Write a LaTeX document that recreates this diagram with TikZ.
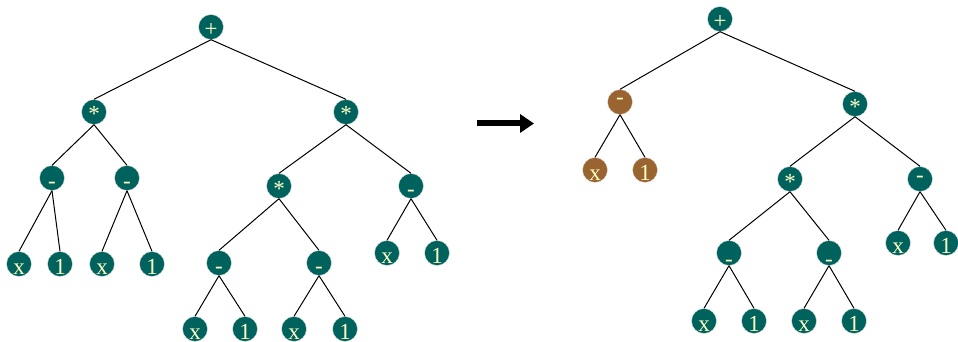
\documentclass[tikz,border=0pt]{standalone}
\usepackage{fontspec}
\setmainfont{Liberation Serif}
\usetikzlibrary{positioning, arrows.meta}
\definecolor{nodeteal}{RGB}{0,98,92}
\definecolor{nodebrown}{RGB}{153,100,48}
\definecolor{labelyellow}{RGB}{255,255,195}
\tikzset{
  x=1pt, y=-1pt, % one unit per pixel, origin at the top left
  on grid, % distances are measured between node centres
  term/.style={circle, fill=nodeteal, draw=white!80!gray, line width=0.4pt,
    minimum size=25pt, inner sep=0pt, text=labelyellow,
    font=\fontsize{23}{23}\selectfont, text height=20pt, text depth=0pt}, % every node of both trees
  moved/.style={term, fill=nodebrown}, % the subtree that was moved
  link/.style={line width=1pt, black}, % the tree edges
}

\begin{document}
\begin{tikzpicture}
    \useasboundingbox (0,0) rectangle (958,342);

    % left tree
    \node[term] (plusL) at (211,27) {+};
    \node[term, below left=85pt and 117pt of plusL] (starA) {*};
    \node[term, below right=85pt and 135pt of plusL] (starB) {*};
    \node[term, below left=66pt and 42pt of starA] (minA) {-};
    \node[term, below right=66pt and 33pt of starA] (minB) {-};
    \node[term, below left=86pt and 33pt of minA] (xA) {x};
    \node[term, below right=86pt and 8pt of minA] (oneA) {1};
    \node[term, below left=86pt and 25pt of minB] (xB) {x};
    \node[term, below right=86pt and 25pt of minB] (oneB) {1};
    \node[term, below left=74pt and 67pt of starB] (starC) {*};
    \node[term, below right=74pt and 65pt of starB] (minC) {-};
    \node[term, below left=67pt and 24pt of minC] (xC) {x};
    \node[term, below right=67pt and 26pt of minC] (oneC) {1};
    \node[term, below left=77pt and 60pt of starC] (minD) {-};
    \node[term, below right=77pt and 40pt of starC] (minE) {-};
    \node[term, below left=66pt and 24pt of minD] (xD) {x};
    \node[term, below right=66pt and 26pt of minD] (oneD) {1};
    \node[term, below left=66pt and 25pt of minE] (xE) {x};
    \node[term, below right=66pt and 26pt of minE] (oneE) {1};

    \draw[link] (plusL.south) edge (starA.north)
    (plusL.south) edge (starB.north)
    (starA.south) edge (minA.north)
    (starA.south) edge (minB.north)
    (minA.south) edge (xA.north)
    (minA.south) edge (oneA.north)
    (minB.south) edge (xB.north)
    (minB.south) edge (oneB.north)
    (starB.south) edge (starC.north)
    (starB.south) edge (minC.north)
    (minC.south) edge (xC.north)
    (minC.south) edge (oneC.north)
    (starC.south) edge (minD.north)
    (starC.south) edge (minE.north)
    (minD.south) edge (xD.north)
    (minD.south) edge (oneD.north)
    (minE.south) edge (xE.north)
    (minE.south) edge (oneE.north);

    % rewrite arrow
    \coordinate (arrowtail) at (477,123.5);
    \coordinate (arrowhead) at (534,123.5);
    \draw[line width=6pt, -{Triangle[length=14pt, width=18pt]}] (arrowtail) -- (arrowhead);

    % right tree
    \node[term] (plusR) at (720,19) {+};
    \node[moved, below left=83pt and 100pt of plusR] (minF) {\raisebox{7pt}{-}};
    \node[term, below right=85pt and 135pt of plusR] (starF) {*};
    \node[moved, below left=68pt and 25pt of minF] (xF) {x};
    \node[moved, below right=68pt and 25pt of minF] (oneF) {1};
    \node[term, below left=75pt and 65pt of starF] (starG) {*};
    \node[term, below right=75pt and 65pt of starF] (minG) {\raisebox{7pt}{-}};
    \node[term, below left=64pt and 22pt of minG] (xG) {x};
    \node[term, below right=64pt and 26pt of minG] (oneG) {1};
    \node[term, below left=74pt and 61pt of starG] (minH) {\raisebox{-3pt}{-}};
    \node[term, below right=74pt and 39pt of starG] (minI) {\raisebox{-3pt}{-}};
    \node[term, below left=68pt and 25pt of minH] (xH) {x};
    \node[term, below right=68pt and 25pt of minH] (oneH) {1};
    \node[term, below left=68pt and 25pt of minI] (xI) {x};
    \node[term, below right=68pt and 25pt of minI] (oneI) {1};

    \draw[link] (plusR.south) edge (minF.north)
    (plusR.south) edge (starF.north)
    (minF.south) edge (xF.north)
    (minF.south) edge (oneF.north)
    (starF.south) edge (starG.north)
    (starF.south) edge (minG.north)
    (minG.south) edge (xG.north)
    (minG.south) edge (oneG.north)
    (starG.south) edge (minH.north)
    (starG.south) edge (minI.north)
    (minH.south) edge (xH.north)
    (minH.south) edge (oneH.north)
    (minI.south) edge (xI.north)
    (minI.south) edge (oneI.north);
\end{tikzpicture}
\end{document}
